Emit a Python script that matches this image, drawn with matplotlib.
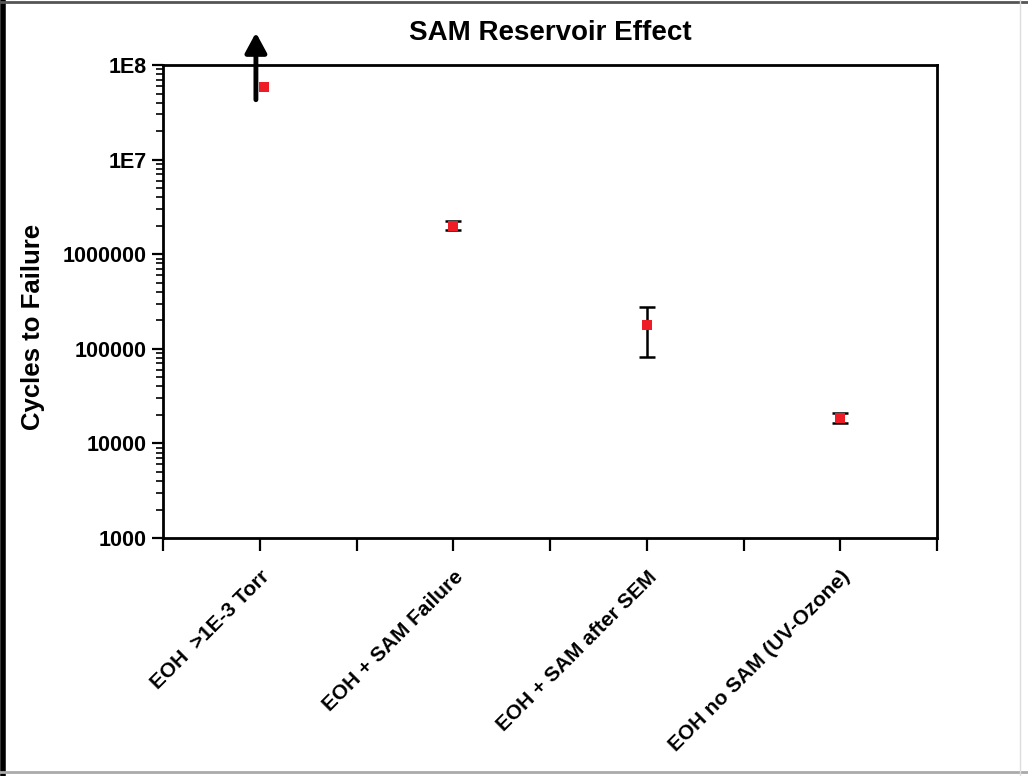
import matplotlib as mpl
import matplotlib.pyplot as plt
import numpy as np
from matplotlib.lines import Line2D

# data
categories = ['EOH  >1E-3 Torr', 'EOH + SAM Failure', 'EOH + SAM after SEM', 'EOH no SAM (UV-Ozone)']
cycles = [5.8e7, 2.0e6, 1.8e5, 1.86e4]
err_low = [0, 1.8e6, 8.2e4, 1.66e4]
err_high = [0, 2.25e6, 2.8e5, 2.08e4]
# first sample never failed: arrow shows lower bound
arrow_from = 4.3e7
arrow_to = 2.2e8

ytick_vals = [1e3, 1e4, 1e5, 1e6, 1e7, 1e8]
ytick_labels = ['1000', '10000', '100000', '1000000', '1E7', '1E8']

mpl.rcParams['font.family'] = ['Liberation Sans', 'DejaVu Sans']
mpl.rcParams['font.weight'] = 'bold'

fig = plt.figure(figsize=(10.28, 7.76), dpi=100)
ax = fig.add_axes([0.1586, 0.3067, 0.7529, 0.6095])

x = np.arange(1, len(categories) + 1)
cycles = np.array(cycles)
yerr = np.array([cycles - np.array(err_low), np.array(err_high) - cycles])
yerr[:, 0] = 0

ax.errorbar(x[1:], cycles[1:], yerr=yerr[:, 1:], fmt='none', ecolor='black',
            elinewidth=1.8, capsize=5.5, capthick=1.8, zorder=2)
ax.plot(x + np.array([0.02, 0, 0, 0]), cycles, 's', color='#ee1c25', markersize=7,
        markeredgewidth=0, zorder=3)

ax.annotate('', xy=(x[0] - 0.02, arrow_to), xytext=(x[0] - 0.02, arrow_from),
            xycoords='data', annotation_clip=False,
            arrowprops=dict(arrowstyle='-|>,head_length=1.2,head_width=0.65',
                            color='black', lw=3.5, shrinkA=0, shrinkB=0))

ax.set_yscale('log')
ax.set_ylim(1e3, 1e8)
ax.set_xlim(0.5, len(categories) + 0.5)

ax.set_yticks(ytick_vals)
ax.set_yticklabels(ytick_labels)
ax.yaxis.set_minor_locator(mpl.ticker.LogLocator(base=10, subs=np.arange(2, 10)))
ax.yaxis.set_minor_formatter(mpl.ticker.NullFormatter())

xt = np.arange(0.5, len(categories) + 0.51, 0.5)
ax.set_xticks(xt)
ax.set_xticklabels([categories[int(v) - 1] if v == int(v) else '' for v in xt],
                   rotation=45, ha='right', rotation_mode='anchor', fontsize=15)

ax.tick_params(axis='both', which='major', direction='out', length=8, width=1.6,
               top=False, right=False)
ax.tick_params(axis='y', which='major', labelsize=15.5)
ax.tick_params(axis='x', which='major', length=9, pad=12, labelsize=15)
ax.tick_params(axis='y', which='minor', direction='out', length=5, width=1.2, right=False)
for s in ax.spines.values():
    s.set_linewidth(2)

ax.set_ylabel('Cycles to Failure', fontsize=18.5, fontweight='bold')
ax.yaxis.set_label_coords(-0.152, 0.446)
ax.set_title('SAM Reservoir Effect', fontsize=20, fontweight='bold', pad=18)

# figure frame
fig.add_artist(Line2D([0.003, 0.003], [0, 1], transform=fig.transFigure, color='black', lw=4))
fig.add_artist(Line2D([0, 1], [0.997, 0.997], transform=fig.transFigure, color='#555555', lw=2))
fig.add_artist(Line2D([0, 1], [0.005, 0.005], transform=fig.transFigure, color='#aaaaaa', lw=2))
fig.add_artist(Line2D([0.992, 0.992], [0, 1], transform=fig.transFigure, color='#dddddd', lw=1))

plt.savefig('out.png', dpi=100, facecolor='white')
